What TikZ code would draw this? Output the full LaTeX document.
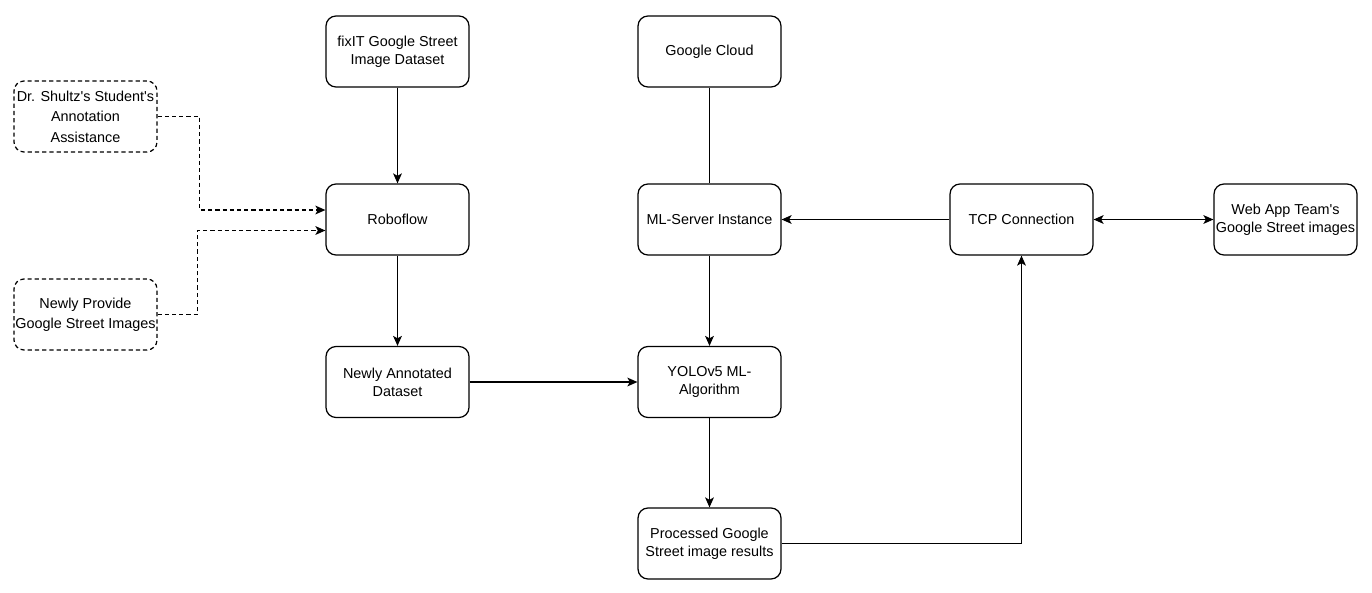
\documentclass[tikz,border=0pt]{standalone}
\usepackage{fontspec}
\setmainfont{Liberation Sans}
\usetikzlibrary{arrows.meta}

\tikzset{
  tip/.tip={Stealth[length=5.7pt,width=5pt,inset=1.4pt]},
  box/.style={draw, rounded corners=0.2cm, minimum width=2.86cm, minimum height=1.42cm,
    inner xsep=1pt, align=center, line width=0.7pt, font=\fontsize{8.2}{10.3}\selectfont},
  dashbox/.style={box, inner xsep=0pt, dash pattern=on 2.4pt off 1.7pt, font=\fontsize{8.2}{11.6}\selectfont},
  link/.style={line width=0.7pt, -tip},
  dashlink/.style={link, dash pattern=on 2.4pt off 1.7pt}
}

\begin{document}
\begin{tikzpicture}[x=0.02cm, y=-0.02cm]
      \useasboundingbox (0,0) rectangle (1372,592);

      \node[box] (fix) at (397.5,51.5) {fixIT Google Street\\Image Dataset};
      \node[box] (cloud) at (709.5,51.5) {Google Cloud};

      \node[dashbox] (dr) at (85.5,116.5) {Dr. Shultz\textquotesingle s Student\textquotesingle s\\Annotation\\Assistance};
      \node[dashbox] (newimg) at (85.5,314.5) {Newly Provide\\Google Street Images};

      \node[box] (rob) at (397.5,219.5) {Roboflow};
      \node[box] (server) at (709.5,219.5) {ML-Server Instance};
      \node[box] (tcp) at (1021.5,219.5) {TCP Connection};
      \node[box] (web) at (1285.5,219.5) {Web App Team\textquotesingle s\\Google Street images};

      \node[box] (annot) at (397.5,382) {Newly Annotated\\Dataset};
      \node[box] (yolo) at (709.5,382) {YOLOv5 ML-\\Algorithm};
      \node[box] (proc) at (709.5,543.5) {Processed Google\\Street image results};

      \draw[link] (fix) -- (rob);
      \draw[line width=0.7pt] (cloud) -- (server);

      \draw[dashlink] (dr.east) -- ++(42,0) |- ([yshift=0.19cm]rob.west);
      \draw[dashlink] (newimg.east) -- ++(40,0) |- ([yshift=-0.22cm]rob.west);

      \draw[link] (rob) -- (annot);
      \draw[link] (annot) -- (yolo);
      \draw[link] (server) -- (yolo);
      \draw[link] (tcp) -- (server);
      \draw[line width=0.7pt, tip-tip] (tcp) -- (web);
      \draw[link] (yolo) -- (proc);
      \draw[link] (proc.east) -| (tcp.south);

    \end{tikzpicture}
\end{document}
